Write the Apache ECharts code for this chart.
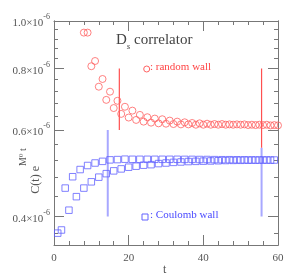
<!DOCTYPE html>
<html><head><meta charset="utf-8">
<script src="https://cdn.jsdelivr.net/npm/echarts@6/dist/echarts.min.js"></script>
<style>html,body{margin:0;padding:0;background:#fff}#c{width:287px;height:280px}</style>
</head><body><div id="c"></div>
<script>
// values in units of 1e-6
const tRandom = [8,9,10,11,12,13,14,15,16,17,18,19,20,21,22,23,24,25,26,27,28,29,30,31,32,33,34,35,36,37,38,39,40,41,42,43,44,45,46,47,48,49,50,51,52,53,54,55,56,57,58,59,60];
const randomWall = [0.947,0.947,0.809,0.829,0.735,0.762,0.691,0.718,0.665,0.688,0.647,0.669,0.636,0.657,0.629,0.644,0.624,0.637,0.621,0.633,0.619,0.631,0.618,0.627,0.617,0.624,0.616,0.622,0.616,0.620,0.615,0.619,0.615,0.618,0.615,0.617,0.615,0.617,0.615,0.616,0.615,0.616,0.615,0.616,0.614,0.615,0.614,0.615,0.614,0.615,0.613,0.614,0.613];
const tCoulomb = [1,2,3,4,5,6,7,8,9,10,11,12,13,14,15,16,17,18,19,20,21,22,23,24,25,26,27,28,29,30,31,32,33,34,35,36,37,38,39,40,41,42,43,44,45,46,47,48,49,50,51,52,53,54,55,56,57,58,59];
const coulombWall = [0.370,0.3755,0.457,0.412,0.482,0.439,0.4985,0.457,0.508,0.4706,0.514,0.481,0.518,0.489,0.5216,0.4954,0.5223,0.500,0.5233,0.504,0.523,0.5064,0.523,0.5088,0.523,0.510,0.523,0.5126,0.523,0.514,0.523,0.5155,0.523,0.5165,0.5228,0.5175,0.5228,0.518,0.5225,0.5185,0.5225,0.519,0.5222,0.5195,0.522,0.520,0.522,0.5203,0.5218,0.5205,0.5217,0.5207,0.5215,0.5208,0.5214,0.521,0.5213,0.521,0.5212];
// fit-range markers: [t, from, to]
const randomFitLines = [[17.5,0.6,0.8],[55.6,0.552,0.8]];
const coulombFitLines = [[14.4,0.4,0.6],[55.6,0.4,0.552]];
const yMajorTicks = [0.4,0.6,0.8,1.0];
const yMinorTicks = [0.37,0.44,0.48,0.52,0.56,0.64,0.68,0.72,0.76,0.84,0.88,0.92,0.96];
const xTickLabels = [0,20,40,60];

const GRAY = '#777';
const TXT = '#555';
const RED = '#ff6262';
const BLUE = '#6262ff';
const serif = 'Liberation Serif, DejaVu Serif, serif';

function yAx(pos, ticks, len, labels) {
  return {
    type: 'log', logBase: 10, min: 0.35, max: 1.0, position: pos,
    axisLine: {show: true, lineStyle: {color: GRAY, width: 1}},
    axisTick: {show: true, inside: true, length: len, customValues: ticks, lineStyle: {color: GRAY}},
    splitLine: {show: false}, minorTick: {show: false},
    axisLabel: labels ? {
      show: true, customValues: ticks, margin: 4, interval: 0, hideOverlap: false,
      showMinLabel: true, showMaxLabel: true,
      formatter: v => '{a|' + (Math.round(v * 10) / 10).toFixed(1) + '×10}{s|-6}',
      rich: {
        a: {fontFamily: serif, fontSize: 11, color: TXT, lineHeight: 16, verticalAlign: 'bottom'},
        s: {fontFamily: serif, fontSize: 8, color: TXT, lineHeight: 16, verticalAlign: 'top'}
      }
    } : {show: false}
  };
}
function xAx(pos, labels) {
  return {
    type: 'value', min: 0, max: 60, interval: 20, position: pos,
    axisLine: {show: true, lineStyle: {color: GRAY, width: 1}},
    axisTick: {show: true, inside: true, length: 10, lineStyle: {color: GRAY}},
    minorTick: {show: true, splitNumber: 5, length: 4, lineStyle: {color: GRAY}},
    splitLine: {show: false}, minorSplitLine: {show: false},
    axisLabel: labels ? {show: true, margin: 8, fontFamily: serif, fontSize: 11, color: TXT,
      customValues: xTickLabels, formatter: v => String(v)} : {show: false}
  };
}

const series = [];
coulombFitLines.forEach(l => series.push({type: 'line', xAxisIndex: 0, yAxisIndex: 0, data: [[l[0], l[1]], [l[0], l[2]]],
  color: '#a8a8ff', itemStyle: {color: '#a8a8ff'},
  symbol: 'none', lineStyle: {color: '#a8a8ff', width: 2, opacity: 1}, silent: true, z: 1}));
randomFitLines.forEach(l => series.push({type: 'line', xAxisIndex: 0, yAxisIndex: 0, data: [[l[0], l[1]], [l[0], l[2]]],
  color: '#ff5050', itemStyle: {color: '#ff5050'},
  symbol: 'none', lineStyle: {color: '#ff5050', width: 1.2, opacity: 1}, silent: true, z: 2}));
series.push({type: 'scatter', xAxisIndex: 0, yAxisIndex: 0, data: tRandom.map((t, i) => [t, randomWall[i]]),
  symbol: 'circle', symbolSize: 7, itemStyle: {color: 'rgba(0,0,0,0)', borderColor: RED, borderWidth: 1}, z: 3, clip: false});
series.push({type: 'scatter', xAxisIndex: 0, yAxisIndex: 0, data: tCoulomb.map((t, i) => [t, coulombWall[i]]),
  symbol: 'rect', symbolSize: 6.5, itemStyle: {color: 'rgba(0,0,0,0)', borderColor: BLUE, borderWidth: 1}, z: 3, clip: false});

const chart = echarts.init(document.getElementById('c'), null, {renderer: 'canvas'});
chart.setOption({
  animation: false,
  backgroundColor: '#fff',
  grid: {left: 54, right: 9, top: 21, bottom: 35, containLabel: false},
  xAxis: [xAx('bottom', true), xAx('top', false)],
  yAxis: [yAx('left', yMajorTicks, 10, true), yAx('left', yMinorTicks, 4, false),
          yAx('right', yMajorTicks, 10, false), yAx('right', yMinorTicks, 4, false)],
  series: series,
  graphic: [
    {type: 'text', left: 116, top: 33, style: {
      text: '{d|D}{s|s}{d| correlator}',
      rich: {d: {fontFamily: serif, fontSize: 15, fill: '#444', lineHeight: 18, verticalAlign: 'top'},
             s: {fontFamily: serif, fontSize: 9, fontStyle: 'italic', fill: '#444', lineHeight: 18, verticalAlign: 'bottom'}}}},
    {type: 'circle', shape: {cx: 146.7, cy: 69, r: 3}, style: {fill: 'none', stroke: RED, lineWidth: 1}},
    {type: 'text', left: 150, top: 62, style: {text: ': random wall', fontFamily: serif, fontSize: 11, fill: '#ff4545'}},
    {type: 'rect', shape: {x: 142, y: 214, width: 6, height: 6}, style: {fill: 'none', stroke: BLUE, lineWidth: 1}},
    {type: 'text', left: 150, top: 210, style: {text: ': Coulomb wall', fontFamily: serif, fontSize: 11, fill: '#4a4aff'}},
    {type: 'text', left: 163, top: 264, style: {text: 't', fontFamily: serif, fontSize: 12, fill: TXT}},
    {type: 'text', x: 30, y: 171, rotation: Math.PI / 2, style: {
      text: '{m|C(t) e}{u|M}{b|0}{u| t}', align: 'center', verticalAlign: 'middle',
      rich: {m: {fontFamily: serif, fontSize: 12, fill: TXT, lineHeight: 24, verticalAlign: 'bottom'},
             u: {fontFamily: serif, fontSize: 10, fill: TXT, lineHeight: 24, verticalAlign: 'top'},
             b: {fontFamily: serif, fontSize: 7, fill: TXT, lineHeight: 16, verticalAlign: 'top'}}}}
  ]
});
</script></body></html>
